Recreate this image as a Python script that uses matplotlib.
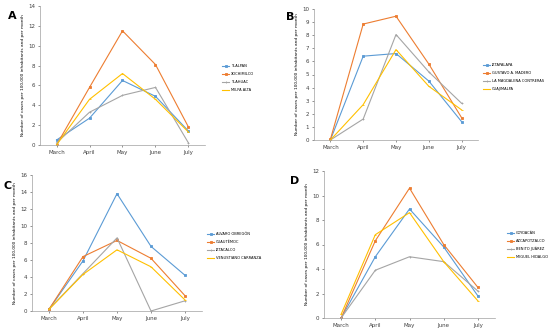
import matplotlib.pyplot as plt

months = ["March", "April", "May", "June", "July"]

# panel A
a_names = ["TLALPAN", "XOCHIMILCO", "TLAHUAC", "MILPA ALTA"]
a_tlalpan = [0.5, 2.7, 6.5, 4.9, 1.4]
a_xochimilco = [0.0, 5.8, 11.5, 8.1, 1.8]
a_tlahuac = [0.2, 3.3, 5.0, 5.8, 0.2]
a_milpa = [0.0, 4.6, 7.2, 4.6, 1.3]

# panel B
b_names = ["IZTAPALAPA", "GUSTAVO A. MADERO", "LA MAGDALENA CONTRERAS", "CUAJIMALPA"]
b_iztapalapa = [0.0, 6.4, 6.6, 4.5, 1.4]
b_gustavo = [0.05, 8.85, 9.45, 5.8, 1.7]
b_magdalena = [0.0, 1.6, 8.05, 5.2, 2.8]
b_cuajimalpa = [0.0, 2.7, 6.9, 4.1, 2.3]

# panel C
c_names = ["ALVARO OBREGÓN", "CUAUTÉMOC", "IZTACALCO", "VENUSTIANO CARRANZA"]
c_alvaro = [0.2, 5.9, 13.8, 7.6, 4.2]
c_cuautemoc = [0.2, 6.4, 8.3, 6.2, 1.8]
c_iztacalco = [0.2, 4.4, 8.6, 0.0, 1.2]
c_venustiano = [0.2, 4.3, 7.2, 5.2, 1.3]

# panel D
d_names = ["COYOACÁN", "AZCAPOTZALCO", "BENITO JUÁREZ", "MIGUEL HIDALGO"]
d_coyoacan = [0.0, 5.0, 8.9, 5.8, 1.8]
d_azcapotzalco = [0.0, 6.3, 10.6, 6.0, 2.5]
d_benito = [0.0, 3.9, 5.0, 4.6, 2.2]
d_miguel = [0.3, 6.8, 8.6, 4.6, 1.4]

colors = ["#5B9BD5", "#ED7D31", "#A5A5A5", "#FFC000"]
markers = ["s", "s", "+", "_"]

ylabel = "Number of cases per 100,000 inhabitants and per month"

fig = plt.figure(figsize=(5.5, 3.32), dpi=100)
W, H = 550.0, 332.0

def px_axes(x0, x1, ytop, ybot):
    return fig.add_axes([x0 / W, 1 - ybot / H, (x1 - x0) / W, (ybot - ytop) / H])

panels = [
    ("A", a_names, [a_tlalpan, a_xochimilco, a_tlahuac, a_milpa], 14, 2,
     (40, 205, 6, 145), (222, 64), (8, 16)),
    ("B", b_names, [b_iztapalapa, b_gustavo, b_magdalena, b_cuajimalpa], 10, 1,
     (314, 478, 9, 140), (483, 63), (286, 17)),
    ("C", c_names, [c_alvaro, c_cuautemoc, c_iztacalco, c_venustiano], 16, 2,
     (32, 202, 175, 311), (207, 232), (4, 186)),
    ("D", d_names, [d_coyoacan, d_azcapotzalco, d_benito, d_miguel], 12, 2,
     (324, 495, 171, 318), (507, 231), (290, 181)),
]

for letter, names, series, ymax, step, box, legpos, labpos in panels:
    ax = px_axes(*box)
    x = list(range(len(months)))
    for i, (name, vals) in enumerate(zip(names, series)):
        ax.plot(x, vals, color=colors[i], lw=0.8, marker=markers[i],
                ms=1.8, mew=0.6, label=name)
    ax.set_xlim(-0.5, 4.5)
    ax.set_ylim(0, ymax)
    ax.set_yticks(range(0, ymax + 1, step))
    ax.set_xticks(x)
    ax.set_xticklabels(months)
    ax.tick_params(labelsize=4, length=1.5, width=0.4, colors="#404040", pad=2)
    for s in ["top", "right"]:
        ax.spines[s].set_visible(False)
    for s in ["left", "bottom"]:
        ax.spines[s].set_linewidth(0.5)
        ax.spines[s].set_color("#a0a0a0")
    ax.set_ylabel(ylabel, fontsize=3.1, labelpad=2)
    ax.legend(loc="upper left", bbox_to_anchor=(legpos[0] / W, 1 - legpos[1] / H),
              bbox_transform=fig.transFigure, fontsize=2.6, frameon=False,
              handlelength=2.0, labelspacing=1.1, handletextpad=0.4,
              borderaxespad=0, borderpad=0)
    fig.text(labpos[0] / W, 1 - labpos[1] / H, letter, fontsize=8,
             fontweight="bold", va="center", ha="left")

fig.savefig("out.png", dpi=100)
